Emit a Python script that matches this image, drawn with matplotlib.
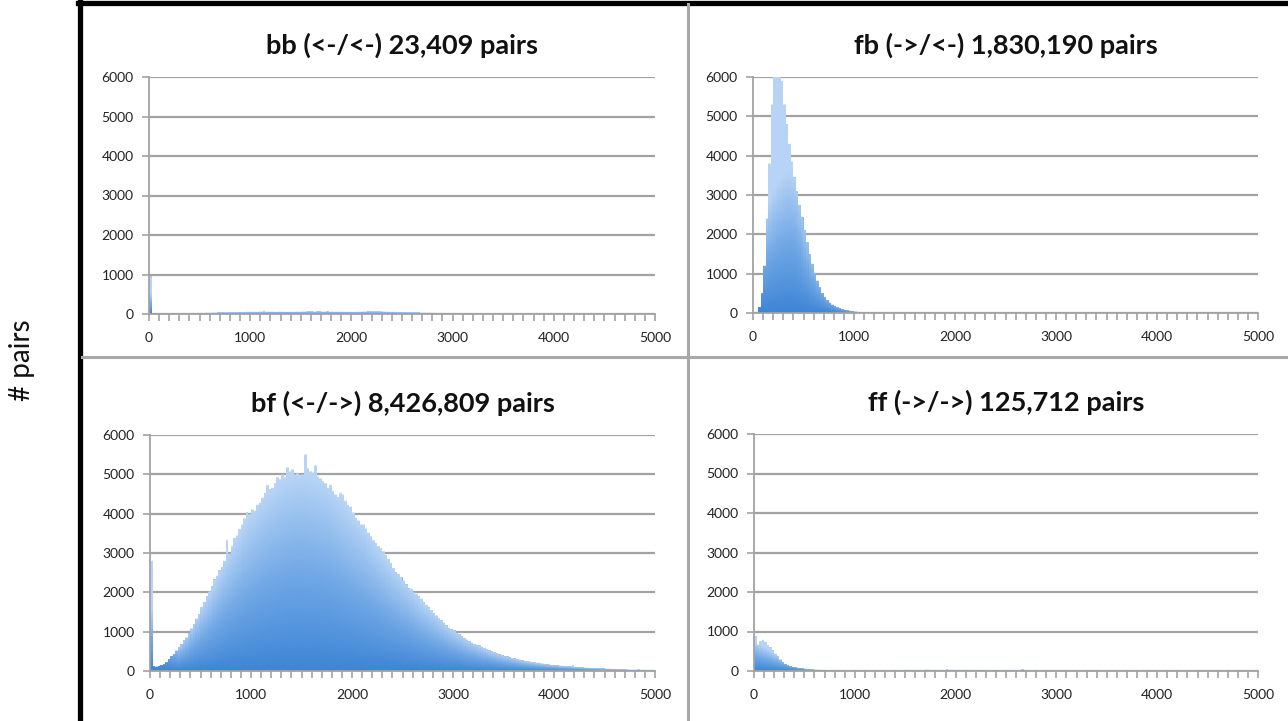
import numpy as np
import matplotlib
matplotlib.use("Agg")
import matplotlib.pyplot as plt
from matplotlib.colors import LinearSegmentedColormap
from matplotlib.lines import Line2D
from matplotlib.ticker import MultipleLocator

# Histogram counts of pair distances, 25-bp bins starting at 0
BIN_WIDTH = 25

bb_title = "bb (<-/<-) 23,409 pairs"
bb_counts = [
    950, 12, 10, 12,   10, 12, 14, 12,   15, 14, 16, 18,   18, 20, 22, 20,
    24, 26, 25, 28,    30, 28, 32, 34,   33, 36, 35, 38,   40, 38, 42, 45,
    44, 48, 46, 50,    52, 50, 55, 54,   56, 58, 55, 60,   62, 85, 60, 58,
    60, 57, 55, 58,    54, 56, 52, 55,   53, 55, 58, 56,   60, 62, 70, 64,
    66, 62, 68, 64,    62, 60, 65, 58,   60, 56, 58, 55,   56, 54, 57, 52,
    55, 53, 56, 58,    60, 62, 65, 68,   75, 70, 66, 72,   62, 60, 58, 55,
    56, 52, 50, 48,    46, 48, 44, 42,   40, 42, 38, 36,   35, 34, 36, 32,
    30, 31, 28, 30,    27, 26, 25, 24,   22, 23, 21, 20,   20, 19, 18, 19,
    17, 18, 16, 16,    15, 15, 14, 15,   14, 13, 14, 13,   12, 13, 12, 12,
    11, 12, 11, 11,    11, 10, 10, 11,   10, 10, 9, 10,    9, 9, 9, 8,
    8, 8, 8, 8,        8, 7, 8, 7,       7, 7, 7, 7,       7, 7, 6, 7,
    6, 6, 6, 6,        6, 6, 6, 5,       6, 5, 5, 5,       5, 5, 5, 5,
    5, 5, 4, 5,        4, 4, 4, 4,
]

fb_title = "fb (->/<-) 1,830,190 pairs"
fb_counts = [
    0, 0, 150, 500,        1200, 2400, 3800, 5300,  6600, 6900, 6500, 5900,
    5300, 4800, 4300, 3850, 3450, 3100, 2750, 2450,  2100, 1800, 1500, 1250,
    1020, 820, 650, 500,   400, 320, 260, 210,      170, 140, 115, 95,
    80, 65, 55, 45,        38, 30, 25, 20,          17, 14, 12, 10,
    9, 8, 8, 7,            7, 6, 6, 6,              5, 5, 5, 5,
    4, 4, 4, 4,            4, 4, 3, 3,              3, 3, 3, 3,
    3, 3, 3, 3,            3, 3, 3, 3,
]

bf_title = "bf (<-/->) 8,426,809 pairs"
bf_counts = [
    2800, 120, 110, 130,   150, 170, 220, 300,     380, 430, 520, 600,
    680, 780, 850, 960,    1080, 1200, 1330, 1450, 1620, 1750, 1900, 2020,
    2150, 2330, 2420, 2560, 2640, 2800, 3300, 2980, 3150, 3360, 3420, 3580,
    3700, 3850, 4020, 3960, 4080, 4050, 4200, 4250, 4380, 4500, 4700, 4600,
    4630, 4750, 4900, 4850, 4970, 4900, 5150, 5050, 5100, 4970, 5000, 4950,
    4970, 5480, 5130, 5050, 5020, 5200, 4920, 4870, 4800, 4750, 4630, 4700,
    4550, 4460, 4400, 4500, 4460, 4300, 4200, 4150, 4000, 3870, 3800, 3700,
    3700, 3600, 3490, 3400, 3300, 3230, 3150, 3100, 3020, 2950, 2850, 2750,
    2620, 2510, 2470, 2390, 2300, 2200, 2100, 2090, 2000, 1960, 1900, 1840,
    1750, 1680, 1620, 1550, 1470, 1410, 1350, 1290, 1230, 1160, 1100, 1060,
    1030, 970, 930, 880,   840, 800, 760, 720,     690, 670, 650, 620,
    590, 560, 530, 500,    480, 450, 420, 410,     380, 370, 350, 330,
    320, 300, 290, 270,    260, 250, 240, 230,     220, 210, 200, 190,
    180, 170, 165, 155,    150, 140, 135, 130,     125, 120, 115, 150,
    105, 100, 95, 90,      88, 85, 80, 75,         72, 70, 66, 64,
    60, 58, 55, 52,        50, 48, 45, 43,         40, 38, 36, 34,
    33, 45, 30, 28,        27, 25, 24, 22,
]

ff_title = "ff (->/->) 125,712 pairs"
ff_counts = [
    880, 650, 760, 790,   740, 660, 600, 520,   440, 370, 290, 220,
    170, 140, 115, 100,   90, 80, 75, 65,       60, 52, 45, 40,
    36, 32, 30, 28,       26, 25, 24, 22,       22, 21, 20, 22,
    20, 19, 21, 20,       19, 20, 18, 19,       20, 18, 19, 21,
    20, 22, 19, 20,       21, 20, 22, 20,       22, 24, 21, 23,
    30, 24, 22, 25,       24, 26, 23, 25,       35, 28, 26, 27,
    25, 27, 28, 26,       38, 30, 28, 27,       26, 28, 27, 29,
    28, 26, 27, 25,       27, 26, 28, 25,       26, 24, 25, 27,
    24, 25, 23, 24,       23, 24, 22, 23,       24, 22, 40, 23,
    22, 21, 22, 20,       21, 20, 19, 20,       19, 18, 20, 18,
    18, 19, 17, 18,       17, 18, 16, 17,       16, 17, 15, 16,
    15, 16, 15, 14,       15, 14, 14, 13,       14, 13, 13, 12,
    13, 12, 12, 12,       12, 11, 12, 11,       11, 11, 10, 11,
    10, 11, 10, 10,       10, 9, 10, 9,         9, 9, 10, 9,
    9, 8, 9, 8,           8, 8, 9, 8,           8, 7, 8, 8,
    7, 8, 7, 7,           7, 7, 7, 6,           6, 7, 6, 6,
    6, 6, 6, 5,           5, 6, 5, 5,
]

X_MAX = 5000
Y_MAX = 6000

FONT = ["Lato", "DejaVu Sans"]
plt.rcParams["font.family"] = FONT

GRID_GRAY = "#a2a2a2"
bar_cmap = LinearSegmentedColormap.from_list(
    "bar_grad", ["#3d85d5", "#72a8e6", "#b7d4f6"])

fig = plt.figure(figsize=(12.88, 7.21), dpi=100)
W, H = 1288, 721


def axes_px(x0, x1, ytop, ybot):
    return fig.add_axes([x0 / W, 1 - ybot / H, (x1 - x0) / W, (ybot - ytop) / H])


def shaded_fill(ax, h):
    """Gradient shading of the histogram, sampled once per screen pixel."""
    bbox = ax.get_window_extent()
    ncols = int(round(bbox.width))
    nrows = int(round(bbox.height))
    # broad local envelope used for the vertical shading
    k = 21
    env = np.convolve(np.pad(h, k // 2, mode="edge"), np.ones(k) / k,
                      mode="valid")
    env = np.maximum(env, 1.0)
    xc = (np.arange(ncols) + 0.5) / ncols * X_MAX
    idx = np.floor(xc / BIN_WIDTH).astype(int)
    valid = idx < len(h)
    idx = np.clip(idx, 0, len(h) - 1)
    hcol = np.where(valid, h[idx], 0.0)
    ecol = env[idx]
    dy = Y_MAX / nrows
    ybot = np.arange(nrows) * dy
    yc = ybot + dy / 2
    frac = np.clip(yc[:, None] / ecol[None, :], 0, 1)
    rgba = bar_cmap(frac)
    rgba[..., 3] = np.clip((hcol[None, :] - ybot[:, None]) / dy, 0, 1)
    ax.imshow(rgba, extent=[0, X_MAX, 0, Y_MAX], origin="lower",
              aspect="auto", interpolation="none", zorder=3)


def draw_panel(ax, counts, title):
    h = np.asarray(counts, dtype=float)
    edges = np.arange(len(h) + 1) * BIN_WIDTH
    # the histogram itself; the shading is painted over it
    ax.stairs(h, edges, fill=True, color="#8ab8ec", linewidth=0, zorder=2)
    shaded_fill(ax, h)

    ax.set_xlim(0, X_MAX)
    ax.set_ylim(0, Y_MAX)
    ax.set_axisbelow(True)
    ax.yaxis.grid(True, color=GRID_GRAY, linewidth=1.6, zorder=0)
    for s in ("top", "right"):
        ax.spines[s].set_visible(False)
    for s in ("left", "bottom"):
        ax.spines[s].set_color(GRID_GRAY)
        ax.spines[s].set_linewidth(1.3)
        ax.spines[s].set_zorder(4)
    ax.xaxis.set_major_locator(MultipleLocator(1000))
    ax.xaxis.set_minor_locator(MultipleLocator(100))
    ax.yaxis.set_major_locator(MultipleLocator(1000))
    ax.tick_params(axis="both", which="both", direction="out", length=5,
                   width=1.2, color=GRID_GRAY, labelcolor="#222222",
                   labelsize=10)
    ax.tick_params(axis="x", which="both", pad=8)
    ax.tick_params(axis="y", pad=6)
    ax.set_title(title, fontsize=19.5, fontweight="bold", pad=17,
                 color="#111111")


ax_bb = axes_px(149, 655, 77, 314)
ax_fb = axes_px(753, 1258, 77, 313)
ax_bf = axes_px(150, 655, 435, 671)
ax_ff = axes_px(754, 1258, 434, 671)

draw_panel(ax_bb, bb_counts, bb_title)
draw_panel(ax_fb, fb_counts, fb_title)
draw_panel(ax_bf, bf_counts, bf_title)
draw_panel(ax_ff, ff_counts, ff_title)

# frame around the panel grid
fig.add_artist(Line2D([80 / W, 80 / W], [0, 1], color="black", linewidth=3.8,
                      transform=fig.transFigure))
fig.add_artist(Line2D([78 / W, 1], [1 - 2.5 / H, 1 - 2.5 / H], color="black",
                      linewidth=3.8, transform=fig.transFigure))
fig.add_artist(Line2D([688 / W, 688 / W], [0, 1 - 4 / H], color="#a8a8a8",
                      linewidth=2.2, transform=fig.transFigure))
fig.add_artist(Line2D([82 / W, 1], [1 - 357 / H, 1 - 357 / H], color="#a8a8a8",
                      linewidth=2.2, transform=fig.transFigure))

fig.text(22 / W, 1 - 360 / H, "# pairs", rotation=90, ha="center", va="center",
         fontsize=20, color="#111111")

fig.savefig("out.png", dpi=100)
